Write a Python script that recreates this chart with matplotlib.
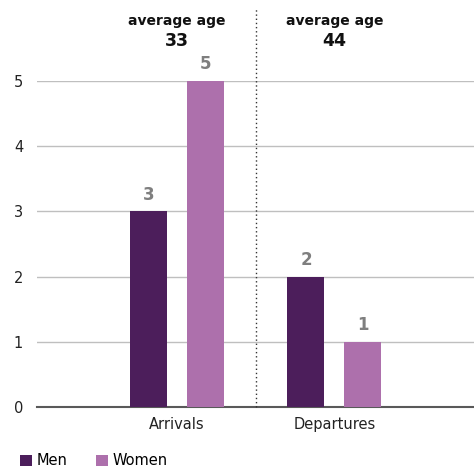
import matplotlib.pyplot as plt
import numpy as np

categories = ["Arrivals", "Departures"]
men = [3, 2]
women = [5, 1]
avg_age = [33, 44]
series_names = ["Men", "Women"]

men_color = "#4C1E5B"
women_color = "#AD70AC"

fig = plt.figure(figsize=(4.74, 4.72), dpi=100)
ax = fig.add_axes([0.078, 0.1377, 0.922, 0.6907])

x = np.arange(len(categories))
w = 0.235
off = 0.181
b1 = ax.bar(x - off, men, w, color=men_color, label=series_names[0], zorder=3)
b2 = ax.bar(x + off, women, w, color=women_color, label=series_names[1], zorder=3)

for bars in (b1, b2):
    for r in bars:
        ax.text(r.get_x() + r.get_width() / 2, r.get_height() + 0.12, f"{r.get_height():g}",
                ha="center", va="bottom", fontsize=12, fontweight="bold", color="#7F7F7F")

ax.set_xlim(-0.889, 1.886)
ax.set_ylim(0, 5)
ax.set_yticks(range(6))
ax.set_xticks(x)
ax.set_xticklabels(categories, fontsize=10.5, color="#222222")
ax.tick_params(axis="y", length=0, pad=10, labelsize=10.5, labelcolor="#222222")
ax.tick_params(axis="x", length=0, pad=7)
ax.grid(axis="y", color="#BFBFBF", linewidth=1, zorder=0)
for s in ["top", "right", "left"]:
    ax.spines[s].set_visible(False)
ax.spines["bottom"].set_color("#595959")
ax.spines["bottom"].set_linewidth(1.5)

# dotted divider between groups, extending up into the header
ax.plot([0.5, 0.5], [0, 6.1], color="#333333", linestyle=(0, (1, 2)), linewidth=1,
        clip_on=False, zorder=4)

for i, age in enumerate(avg_age):
    ax.text(x[i], 5.92, "average age", ha="center", va="center", fontsize=10,
            fontweight="bold", color="#111111", clip_on=False)
    ax.text(x[i], 5.61, str(age), ha="center", va="center", fontsize=12.5,
            fontweight="bold", color="#111111", clip_on=False)

fig.legend(loc="lower left", bbox_to_anchor=(0.015, -0.02), ncol=2, frameon=False,
           fontsize=10.5, handlelength=0.8, handleheight=0.8, handletextpad=0.3,
           columnspacing=2.0)

fig.savefig("out.png", dpi=100)
